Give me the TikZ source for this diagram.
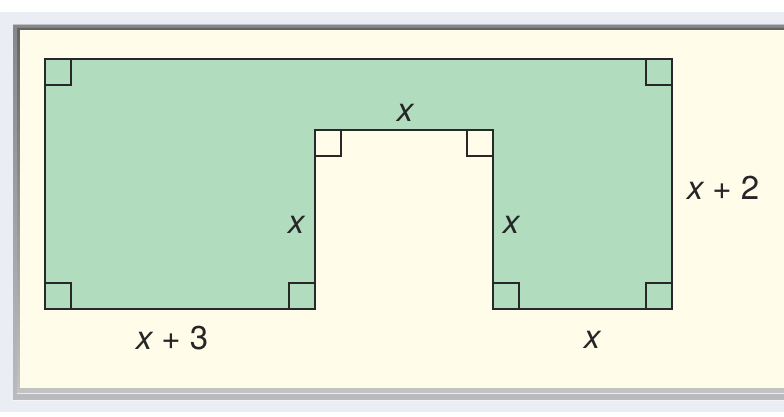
\documentclass[tikz,border=0pt]{standalone}
\usepackage{fontspec}
\setmainfont{TeX Gyre Heros}
\definecolor{bgout}{RGB}{234,237,244}
\definecolor{cream}{RGB}{255,252,234}
\definecolor{shapegreen}{RGB}{178,220,190}
\definecolor{edge}{RGB}{40,40,40}
\definecolor{shade}{RGB}{200,203,212}
\tikzset{
  outline/.style={draw=edge, line width=2.4pt, line join=miter},
  rightangle/.style={draw=edge, line width=2pt},
  lbl/.style={font=\fontsize{33}{33}\selectfont, text=black!85, inner sep=0pt},
}
\begin{document}
\begin{tikzpicture}[x=1pt,y=-1pt]
\useasboundingbox (0,0) rectangle (784,417);
% backgrounds
\fill[white] (0,0) rectangle (784,417);
\fill[bgout] (0,12) rectangle (784,412);
\fill[shade, opacity=0.4] (13,25) rectangle (784,400);
\fill[shade, opacity=0.7] (17,28) rectangle (784,393);
\fill[cream] (20,30) rectangle (784,388);
% shape
\fill[shapegreen] (45,59) -- (672,59) -- (672,309) -- (493,309) -- (493,130) -- (315,130) -- (315,309) -- (45,309) -- cycle;
\draw[outline] (45,59) -- (672,59) -- (672,309) -- (493,309) -- (493,130) -- (315,130) -- (315,309) -- (45,309) -- cycle;
% right angle marks
\draw[rightangle] (45,85) -- (71,85) -- (71,59);
\draw[rightangle] (646,59) -- (646,85) -- (672,85);
\draw[rightangle] (315,156) -- (341,156) -- (341,130);
\draw[rightangle] (467,130) -- (467,156) -- (493,156);
\draw[rightangle] (45,283) -- (71,283) -- (71,309);
\draw[rightangle] (289,309) -- (289,283) -- (315,283);
\draw[rightangle] (493,283) -- (519,283) -- (519,309);
\draw[rightangle] (646,309) -- (646,283) -- (672,283);
% labels
\node[lbl] (top) at (405,113) {\itshape x};
\node[lbl] (right) at (723,188) {\itshape x\upshape{} + 2};
\node[lbl] (inl) at (296,225) {\itshape x};
\node[lbl] (inr) at (511,225) {\itshape x};
\node[lbl] (botl) at (172,338) {\itshape x\upshape{} + 3};
\node[lbl] (botr) at (592,340) {\itshape x};
\end{tikzpicture}
\end{document}
